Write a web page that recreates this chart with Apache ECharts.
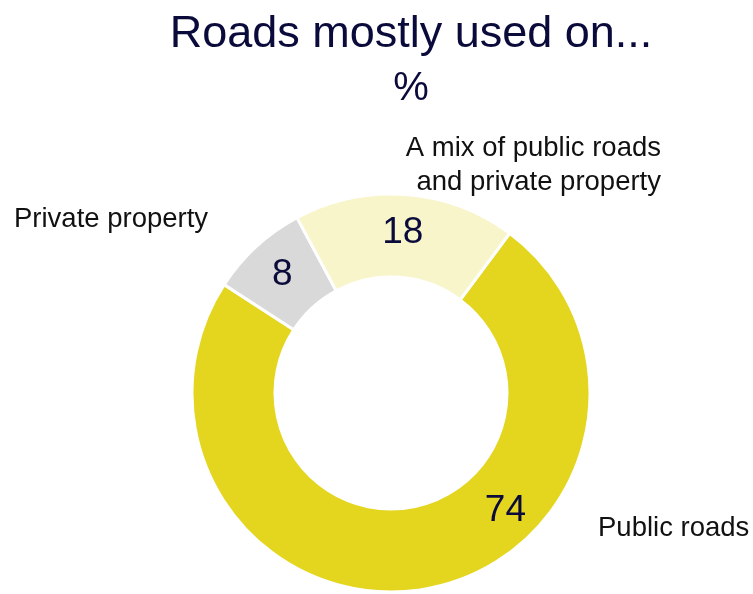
<!DOCTYPE html>
<html>
<head>
<meta charset="utf-8">
<script src="https://cdn.jsdelivr.net/npm/echarts@6/dist/echarts.min.js"></script>
<style>
  html, body { margin: 0; padding: 0; background: #ffffff; }
  #chart { width: 753px; height: 594px; }
</style>
</head>
<body>
<div id="chart"></div>
<script>
// Share of use by road type (%), in drawing order (clockwise)
const categories = ['Public roads', 'Private property', 'A mix of public roads\nand private property'];
const shares = [74, 8, 18];
const sliceColors = ['#E4D51F', '#D9D9D9', '#F8F5CB'];

// Where each category name sits around the ring
const nameSpots = [
  { x: 598, y: 528, align: 'left' },
  { x: 14, y: 219, align: 'left' },
  { x: 661, y: 165, align: 'right' }
];

const chart = echarts.init(document.getElementById('chart'));

const ringCenter = [391, 393];
const ringRadius = [116, 199];

chart.setOption({
  backgroundColor: '#ffffff',
  animation: false,
  title: [
    {
      text: 'Roads mostly used on...',
      left: 406,
      top: 7,
      textAlign: 'center',
      textStyle: { color: '#0B0B3B', fontSize: 45, fontWeight: 'normal', fontFamily: 'Liberation Sans, Arial, sans-serif' }
    },
    {
      text: '%',
      left: 406,
      top: 64,
      textAlign: 'center',
      textStyle: { color: '#0B0B3B', fontSize: 40, fontWeight: 'normal', fontFamily: 'Liberation Sans, Arial, sans-serif' }
    }
  ],
  series: [
    {
      type: 'pie',
      center: ringCenter,
      radius: ringRadius,
      startAngle: 53.4,
      clockwise: true,
      avoidLabelOverlap: false,
      itemStyle: { borderColor: '#ffffff', borderWidth: 3 },
      label: {
        show: true,
        position: 'inside',
        formatter: p => String(p.value),
        color: '#0B0B3B',
        fontSize: 37,
        fontFamily: 'Liberation Sans, Arial, sans-serif'
      },
      labelLine: { show: false },
      emphasis: { disabled: true },
      data: categories.map((c, i) => ({
        name: c,
        value: shares[i],
        itemStyle: { color: sliceColors[i] },
        label: i === 0 ? { offset: [86, -40] } : {}
      }))
    },
    {
      type: 'pie',
      center: ringCenter,
      radius: ringRadius,
      startAngle: 53.4,
      clockwise: true,
      silent: true,
      avoidLabelOverlap: false,
      itemStyle: { color: 'rgba(0,0,0,0)', borderWidth: 0 },
      label: {
        show: true,
        position: 'outside',
        formatter: p => p.name,
        color: '#111111',
        fontSize: 27.5,
        lineHeight: 34,
        fontFamily: 'Liberation Sans, Arial, sans-serif'
      },
      labelLine: { show: false },
      labelLayout: p => ({
        x: nameSpots[p.dataIndex].x,
        y: nameSpots[p.dataIndex].y,
        align: nameSpots[p.dataIndex].align,
        verticalAlign: 'middle',
        moveOverlap: null
      }),
      data: categories.map((c, i) => ({ name: c, value: shares[i] }))
    }
  ]
});
</script>
</body>
</html>
